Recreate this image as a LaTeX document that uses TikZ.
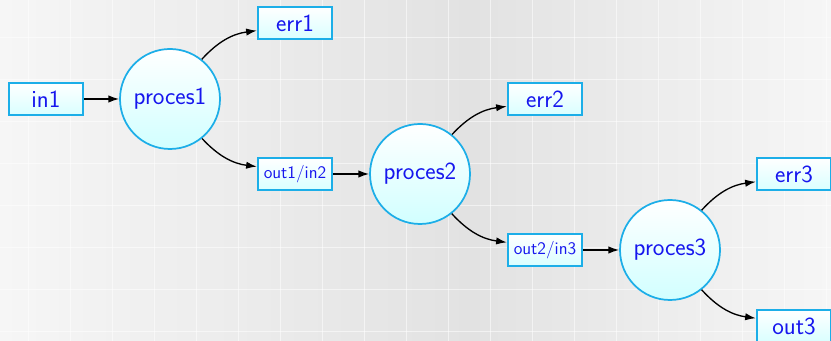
\documentclass[tikz,border=0pt]{standalone}
\usepackage{tikz}
\usepackage{xcolor}
\usetikzlibrary{arrows.meta}

\definecolor{procline}{RGB}{28,174,232}
\definecolor{proctext}{RGB}{22,22,238}
\definecolor{bgmid}{RGB}{226,226,226}
\definecolor{bgside}{RGB}{246,246,246}

\begin{document}
\begin{tikzpicture}[x=0.75pt,y=0.75pt,
    >={Latex[length=8pt,width=5.5pt]},
    proces/.style={circle,draw=procline,line width=1.3pt,top color=white,bottom color=cyan!18,
        minimum size=75pt,inner sep=0pt,text=proctext,font=\sffamily\fontsize{18.5}{21}\selectfont},
    datbox/.style={rectangle,draw=procline,line width=1.3pt,top color=white,bottom color=cyan!15,
        minimum width=56pt,minimum height=24.5pt,inner sep=0pt,text=proctext,font=\sffamily\fontsize{18.5}{21}\selectfont},
    smalltext/.style={font=\sffamily\fontsize{13.2}{15}\selectfont},
    gridline/.style={white,opacity=0.55,line width=0.7pt},
    flow/.style={->,line width=1pt}]

        % background with grid
        \useasboundingbox (0,0) rectangle (831,341);
        \clip (0,0) rectangle (831,341);
        \shade[left color=bgside,right color=bgmid] (0,0) rectangle (470,341);
        \shade[left color=bgmid,right color=bgside] (470,0) rectangle (831,341);
        \foreach \gx in {28,70,...,830} {
            \draw[gridline] (\gx,0) -- (\gx,341);
        }
        \foreach \gy in {10,52,...,340} {
            \draw[gridline] (0,\gy) -- (831,\gy);
        }

        % processes
        \node[proces] (p1) at (170,242) {proces1};
        \node[proces] (p2) at (420,167) {proces2};
        \node[proces] (p3) at (670,91) {proces3};

        % data
        \node[datbox] (in1)  at (46,242)  {in1};
        \node[datbox] (err1) at (295,318) {err1};
        \node[datbox,smalltext] (o1) at (295,167) {out1/in2};
        \node[datbox] (err2) at (545,242) {err2};
        \node[datbox,smalltext] (o2) at (545,91) {out2/in3};
        \node[datbox] (err3) at (794,167) {err3};
        \node[datbox] (out3) at (794,15)  {out3};

        % flows
        \draw[flow] (in1) -- (p1);
        \draw[flow] (p1) to[bend left=20] (err1);
        \draw[flow] (p1) to[bend right=20] (o1);
        \draw[flow] (o1) -- (p2);
        \draw[flow] (p2) to[bend left=20] (err2);
        \draw[flow] (p2) to[bend right=20] (o2);
        \draw[flow] (o2) -- (p3);
        \draw[flow] (p3) to[bend left=20] (err3);
        \draw[flow] (p3) to[bend right=20] (out3);
\end{tikzpicture}
\end{document}
